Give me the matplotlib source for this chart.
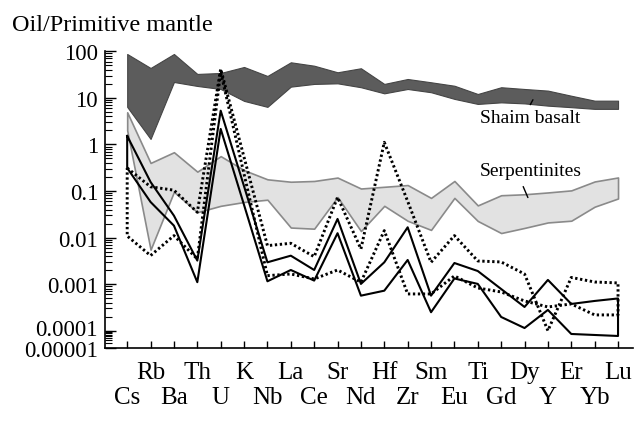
import numpy as np
import matplotlib
matplotlib.use('Agg')
import matplotlib.pyplot as plt
from matplotlib.ticker import FixedLocator, FixedFormatter, NullFormatter
from matplotlib.transforms import ScaledTranslation

plt.rcParams['font.family'] = 'Liberation Serif'

elements = ['Cs', 'Rb', 'Ba', 'Th', 'U', 'K', 'Nb', 'La', 'Ce', 'Sr', 'Nd',
            'Hf', 'Zr', 'Sm', 'Eu', 'Ti', 'Gd', 'Dy', 'Y', 'Er', 'Yb', 'Lu']

# Shaim basalt field
basalt_high = [87.5, 43.8, 87.5, 32.6, 34.2, 46, 29.5, 58, 49, 35.4, 43.2,
               19.9, 25.4, 21.6, 18.2, 12.1, 16.9, 15.5, 14.3, 11.1, 8.7, 8.7]
basalt_low = [6.4, 1.31, 21.9, 18, 15.5, 8.6, 6.4, 17.4, 19.9, 20.5, 16.9,
              12.5, 15.5, 13.2, 9.5, 7.4, 8.0, 7.6, 6.8, 6.3, 5.8, 5.8]

# serpentinites field
serp_high = [4.9, 0.40, 0.68, 0.26, 0.56, 0.28, 0.178, 0.158, 0.164, 0.194, 0.113,
             0.123, 0.134, 0.071, 0.164, 0.049, 0.081, 0.085, 0.093, 0.103, 0.160, 0.195]
serp_low = [2.0, 0.0055, 0.096, 0.035, 0.048, 0.058, 0.065, 0.0164, 0.0155, 0.074, 0.0138,
            0.048, 0.0229, 0.0146, 0.071, 0.0227, 0.0125, 0.0161, 0.0211, 0.023, 0.046, 0.069]

# oil samples, solid outline
solid_up = [1.52, 0.156, 0.0295, 0.0032, 5.3, 0.126, 0.00294, 0.00408, 0.00201, 0.0251, 0.00101,
            0.00294, 0.0166, 0.000565, 0.00284, 0.00191, 0.000785, 0.000323, 0.00123, 0.000375,
            0.000435, 0.000492]
solid_low = [0.312, 0.058, 0.018, 0.0011, 2.15, 0.05, 0.00115, 0.00201, 0.00119, 0.0124, 0.000565,
             0.000723, 0.0033, 0.000249, 0.00132, 0.00101, 0.000197, 0.000114, 0.000279, 0.000065,
             0.000057, 0.00005]

# oil samples, dotted outline
dotted_up = [0.312, 0.123, 0.104, 0.0349, 42, 0.53, 0.0067, 0.00753, 0.00388, 0.0733, 0.00569,
             1.11, 0.06, 0.00294, 0.011, 0.00314, 0.00299, 0.00165, 0.0001, 0.00139, 0.00111, 0.00106]
dotted_low = [0.0108, 0.0041, 0.011, 0.00347, 36, 0.23, 0.00152, 0.00165, 0.00129, 0.00201, 0.0011,
              0.0141, 0.000615, 0.000615, 0.0015, 0.000826, 0.000678, 0.000435, 0.000323, 0.000375,
              0.000218, 0.000218]

ytick_vals = [1e-5, 1e-4, 1e-3, 1e-2, 1e-1, 1, 10, 100]
ytick_labels = ['0.00001', '0.0001', '0.001', '0.01', '0.1', '1', '10', '100']

# the lowest decade of the original axis is squeezed
squeeze = 0.378


def fwd(v):
    lg = np.log10(np.clip(np.asarray(v, dtype=float), 1e-12, None))
    return np.where(lg >= -4, lg, -4 + (lg + 4) * squeeze)


def inv(t):
    t = np.asarray(t, dtype=float)
    return np.where(t >= -4, 10.0 ** t, 10.0 ** (-4 + (t + 4) / squeeze))


x = np.arange(len(elements))

fig = plt.figure(figsize=(6.34, 4.31), dpi=100)
ax = fig.add_axes([0.1656, 0.1896, 0.8328, 0.6891])
ax.set_yscale('function', functions=(fwd, inv))

ax.fill_between(x, serp_low, serp_high, facecolor='#e2e2e2', edgecolor='#8a8a8a', lw=1.2, zorder=1)
ax.fill_between(x, basalt_low, basalt_high, facecolor='#5c5c5c', edgecolor='#454545', lw=0.8, zorder=2)

xs = list(x) + list(x[::-1]) + [x[0]]
ax.plot(xs, solid_up + solid_low[::-1] + [solid_up[0]], color='black', lw=1.5, zorder=3)
ax.plot(xs, dotted_up + dotted_low[::-1] + [dotted_up[0]], color='black', lw=2.1,
        linestyle=(0, (0.8, 0.9)), zorder=3)

ax.set_xlim(-0.95, 21.64)
ax.set_ylim(1e-5, 100)

ax.yaxis.set_major_locator(FixedLocator(ytick_vals))
ax.yaxis.set_major_formatter(FixedFormatter(ytick_labels))
ax.yaxis.set_minor_locator(FixedLocator([m * 10.0 ** k for k in range(-5, 2) for m in range(2, 10)]))
ax.yaxis.set_minor_formatter(NullFormatter())

ax.set_xticks(x[0::2], elements[0::2])
ax.set_xticks(x[1::2], elements[1::2], minor=True)
ax.tick_params(axis='x', which='both', direction='in', length=5, width=1, labelsize=18)
ax.tick_params(axis='x', which='major', pad=27)
ax.tick_params(axis='x', which='minor', pad=9)
ax.tick_params(axis='y', which='major', direction='in', length=8, width=1, labelsize=16.5, pad=5)
ax.tick_params(axis='y', which='minor', direction='in', length=5, width=0.8)

# the 0.0001 label sits a little above its tick, as in the original
tick_1e4 = ax.yaxis.get_major_ticks()[1].label1
tick_1e4.set_transform(tick_1e4.get_transform() + ScaledTranslation(0, 3.5 / 100, fig.dpi_scale_trans))

for side in ['top', 'right']:
    ax.spines[side].set_visible(False)
for side in ['left', 'bottom']:
    ax.spines[side].set_linewidth(1.2)

ax.text(0.806, 0.778, 'Shaim basalt', transform=ax.transAxes, ha='center', va='center', fontsize=14)
ax.annotate('', xy=(0.813, 0.845), xytext=(0.803, 0.812), xycoords='axes fraction',
            arrowprops=dict(arrowstyle='-', lw=1, color='black'))
ax.text(0.806, 0.600, 'Serpentinites', transform=ax.transAxes, ha='center', va='center', fontsize=14)
ax.annotate('', xy=(0.803, 0.499), xytext=(0.790, 0.553), xycoords='axes fraction',
            arrowprops=dict(arrowstyle='-', lw=1, color='black'))

fig.text(12 / 634, 1 - 31 / 431, 'Oil/Primitive mantle', fontsize=17.5, va='baseline', ha='left')

fig.savefig('out.png', dpi=100)
